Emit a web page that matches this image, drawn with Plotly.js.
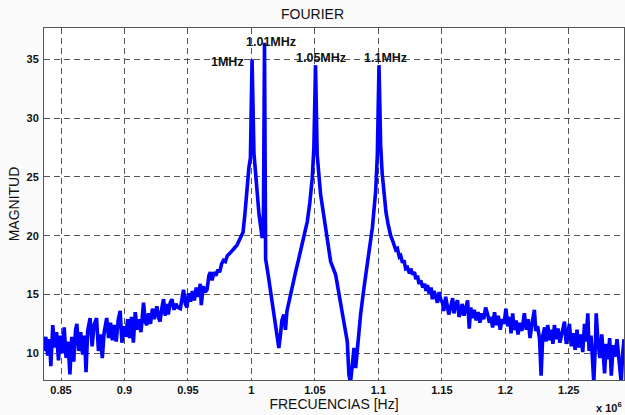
<!DOCTYPE html>
<html>
<head>
<meta charset="utf-8">
<script src="https://cdn.plot.ly/plotly-3.0.1.min.js"></script>
<style>html,body{margin:0;padding:0;background:#fafafa;}#chart{width:625px;height:415px;}</style>
</head>
<body>
<div id="chart"></div>
<script>
// Frequency in units of 10^6 Hz, magnitude values
const freq = [
0.8365,0.8380,0.8395,0.8410,0.8420,0.8435,0.8450,0.8465,0.8480,0.8495,
0.8510,0.8525,0.8540,0.8555,0.8570,0.8585,0.8600,0.8615,0.8625,0.8640,
0.8655,0.8670,0.8685,0.8697,0.8710,0.8729,0.8745,0.8760,0.8780,0.8795,
0.8810,0.8825,0.8840,0.8860,0.8875,0.8890,0.8905,0.8920,0.8935,0.8950,
0.8966,0.8980,0.8995,0.9010,0.9025,0.9040,0.9055,0.9070,0.9085,0.9100,
0.9115,0.9130,0.9150,0.9165,0.9177,0.9190,0.9205,0.9220,0.9235,0.9255,
0.9270,0.9280,0.9295,0.9308,0.9320,0.9335,0.9345,0.9360,0.9374,0.9390,
0.9405,0.9420,0.9440,0.9455,0.9465,0.9480,0.9492,0.9505,0.9520,0.9535,
0.9550,0.9565,0.9580,0.9597,0.9605,0.9620,0.9635,0.9650,0.9665,0.9676,
0.9690,0.9705,0.9720,0.9735,0.9750,0.9765,0.9780,0.9795,0.9810,0.9830,
0.9850,0.9870,0.9887,0.9905,0.9920,0.9934,0.9950,0.9966,0.9980,0.9992,
1.0005,1.0020,1.0040,1.0060,1.0085,1.0095,1.0103,1.0108,1.0112,1.0130,
1.0150,1.0176,1.0190,1.0205,1.0216,1.0228,1.0240,1.0255,1.0268,1.0280,
1.0295,1.0308,1.0330,1.0350,1.0374,1.0400,1.0420,1.0440,1.0460,1.0479,
1.0492,1.0505,1.0518,1.0545,1.0584,1.0624,1.0663,1.0703,1.0729,1.0755,
1.0768,1.0780,1.0795,1.0808,1.0821,1.0834,1.0860,1.0887,1.0926,1.0953,
1.0979,1.0992,1.1005,1.1018,1.1030,1.1044,1.1060,1.1076,1.1097,1.1115,
1.1137,1.1150,1.1165,1.1176,1.1190,1.1202,1.1215,1.1229,1.1245,1.1255,
1.1269,1.1285,1.1295,1.1308,1.1320,1.1334,1.1350,1.1365,1.1375,1.1387,
1.1400,1.1415,1.1425,1.1439,1.1450,1.1465,1.1479,1.1490,1.1505,1.1515,
1.1530,1.1545,1.1555,1.1571,1.1585,1.1595,1.1610,1.1624,1.1635,1.1650,
1.1660,1.1675,1.1688,1.1703,1.1716,1.1728,1.1740,1.1755,1.1770,1.1785,
1.1800,1.1815,1.1830,1.1845,1.1861,1.1875,1.1887,1.1900,1.1915,1.1930,
1.1945,1.1960,1.1975,1.1990,1.2005,1.2020,1.2035,1.2045,1.2058,1.2070,
1.2085,1.2100,1.2115,1.2130,1.2150,1.2165,1.2180,1.2195,1.2210,1.2229,
1.2240,1.2255,1.2270,1.2282,1.2295,1.2310,1.2320,1.2334,1.2350,1.2365,
1.2375,1.2387,1.2400,1.2415,1.2430,1.2445,1.2466,1.2480,1.2495,1.2505,
1.2520,1.2535,1.2550,1.2565,1.2580,1.2595,1.2610,1.2624,1.2635,1.2650,
1.2660,1.2675,1.2685,1.2697,1.2710,1.2716,1.2730,1.2745,1.2760,1.2770,
1.2782,1.2795,1.2810,1.2822,1.2835,1.2850,1.2865,1.2880,1.2895,1.2913,
1.2925,1.2935
];
const magnitude = [
10.2,11.4,9.8,11.2,8.9,12.4,10.5,11.8,9.4,11.5,
10.0,12.2,9.6,11.0,8.2,11.4,9.3,12.0,12.5,10.2,
11.8,9.9,11.5,8.4,11.9,13.0,10.6,12.4,13.0,10.2,
11.6,9.6,11.8,13.0,11.3,12.6,11.1,12.4,11.0,12.8,
13.6,10.9,12.3,11.4,12.9,11.3,13.1,10.9,13.5,12.0,
12.9,11.8,14.3,12.6,12.4,13.4,12.5,13.8,12.9,14.0,
13.0,12.7,13.9,14.6,13.2,14.2,13.3,14.3,14.6,13.7,
14.2,13.9,13.8,14.9,15.4,14.2,13.9,15.1,14.4,15.3,
14.5,15.6,14.8,15.9,14.1,15.7,15.2,15.4,16.6,16.9,
16.2,16.9,16.6,17.1,16.9,17.6,17.9,17.8,18.3,18.5,
18.8,19.0,19.2,19.6,19.9,20.3,22.0,24.6,25.8,26.6,
35.0,27.0,24.2,21.8,19.8,22.0,36.4,22.0,18.0,16.8,
15.3,13.6,12.5,11.2,10.45,11.5,12.8,13.3,12.0,13.6,
14.4,15.0,16.0,17.0,18.1,19.3,20.3,21.2,22.8,24.9,
27.5,34.5,26.9,23.5,20.7,17.8,16.7,14.4,12.7,11.0,
8.2,7.5,9.0,10.45,8.75,10.5,13.3,15.6,18.4,20.7,
23.8,26.9,34.5,27.7,25.3,23.3,22.0,21.0,20.0,19.5,
18.8,18.9,18.2,18.3,17.7,17.9,17.2,17.3,16.8,17.2,
16.7,16.9,16.3,16.6,15.9,16.2,15.6,15.9,15.3,15.8,
15.1,15.6,14.6,15.3,14.9,14.3,15.2,14.6,14.3,13.6,
14.8,14.1,13.3,14.0,14.7,13.4,14.2,14.5,13.1,13.5,
14.2,13.2,14.0,14.5,12.1,13.9,13.0,13.7,12.8,13.5,
12.6,13.4,12.9,13.9,13.3,12.6,13.1,12.2,13.5,12.4,
13.2,12.0,12.9,12.5,13.8,12.3,13.1,11.7,13.4,12.0,
12.8,11.6,12.6,11.9,13.4,12.0,12.9,11.3,12.5,13.7,
11.9,12.3,11.2,8.1,11.5,12.2,11.0,12.4,11.1,12.0,
10.8,12.4,11.2,12.1,10.9,11.8,12.7,10.8,11.9,12.5,
10.6,11.7,10.3,12.0,10.5,11.6,10.1,12.5,11.0,13.4,
10.2,11.5,9.8,7.5,10.9,13.4,11.0,9.6,11.6,10.0,
8.3,10.8,9.5,11.3,8.1,10.7,9.7,11.2,9.4,7.5,
10.0,11.2
];
const tickValsX = [0.85,0.9,0.95,1,1.05,1.1,1.15,1.2,1.25];
const tickTextX = ['0.85','0.9','0.95','1','1.05','1.1','1.15','1.2','1.25'];
const tickValsY = [10,15,20,25,30,35];
const peakFreqs = [0.981,1.0158,1.0545,1.1058];
const peakLabelY = [34.8,36.45,35.1,35.1];
const peakLabels = ['1MHz','1.01MHz','1.05MHz','1.1MHz'];

const trace = {
  x: freq, y: magnitude, type: 'scatter', mode: 'lines',
  line: {color: '#0000ff', width: 3.6}, hoverinfo: 'skip'
};

const annotations = peakLabels.map((t, i) => ({
  x: peakFreqs[i], y: peakLabelY[i], xref: 'x', yref: 'y', text: '<b>' + t + '</b>',
  showarrow: false, font: {family: 'Liberation Sans, Arial, sans-serif', size: 12.5, color: '#111'},
  xanchor: 'center', yanchor: 'middle'
}));
annotations.push({
  xref: 'paper', yref: 'paper', x: 1.0, y: -0.052, xanchor: 'right', yanchor: 'top',
  text: '<b>x 10<sup>6</sup></b>', showarrow: false,
  font: {family: 'Liberation Sans, Arial, sans-serif', size: 11, color: '#111'}
});

const axisFont = {family: 'Liberation Sans, Arial, sans-serif', size: 11, color: '#111', weight: 'bold'};

const layout = {
  width: 625, height: 415,
  paper_bgcolor: '#fafafa', plot_bgcolor: '#ffffff',
  margin: {l: 44, r: 1, t: 28, b: 35},
  showlegend: false,
  title: {text: 'FOURIER', x: 0.5, xanchor: 'center', y: 0.965, yanchor: 'middle',
          font: {family: 'Liberation Sans, Arial, sans-serif', size: 14, color: '#111'}},
  xaxis: {
    range: [0.8366, 1.2935], tickvals: tickValsX, ticktext: tickTextX,
    tickfont: axisFont, showgrid: true, gridcolor: '#555', griddash: '6px,4px', gridwidth: 1,
    zeroline: false, showline: true, mirror: true, linecolor: '#555', linewidth: 1,
    ticks: '', ticklabelstandoff: 0,
    title: {text: 'FRECUENCIAS [Hz]', standoff: 0,
            font: {family: 'Liberation Sans, Arial, sans-serif', size: 14, color: '#111'}}
  },
  yaxis: {
    range: [7.73, 37.66], tickvals: tickValsY,
    tickfont: axisFont, showgrid: true, gridcolor: '#555', griddash: '6px,4px', gridwidth: 1,
    zeroline: false, showline: true, mirror: true, linecolor: '#555', linewidth: 1,
    ticks: '', ticklabelstandoff: 2,
    title: {text: 'MAGNITUD', standoff: 3,
            font: {family: 'Liberation Sans, Arial, sans-serif', size: 14, color: '#111'}}
  },
  annotations: annotations
};

Plotly.newPlot('chart', [trace], layout, {displayModeBar: false, staticPlot: true});
</script>
</body>
</html>
